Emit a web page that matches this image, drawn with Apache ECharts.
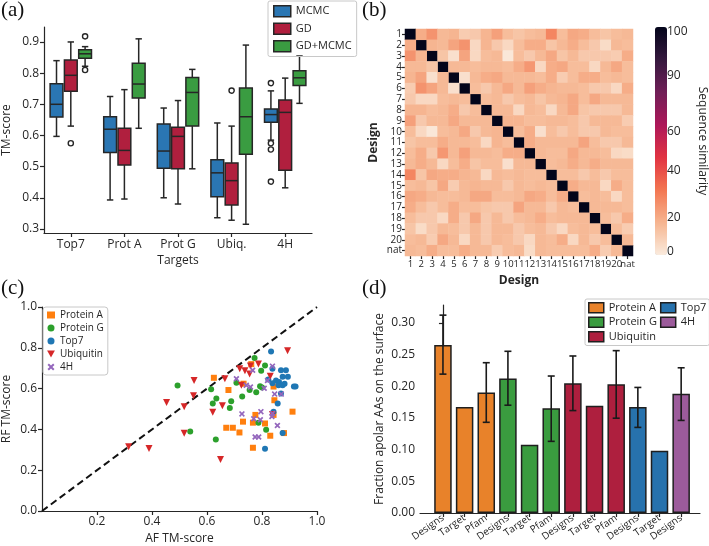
<!DOCTYPE html>
<html><head><meta charset="utf-8">
<script src="https://cdn.jsdelivr.net/npm/echarts@6/dist/echarts.min.js"></script>
<style>html,body{margin:0;padding:0;background:#fff}#c{width:709px;height:546px}</style>
</head><body><div id="c"></div>
<script>
// ---------- Panel (a): box plots ----------
const targets = ['Top7', 'Prot A', 'Prot G', 'Ubiq.', '4H'];
const methods = ['MCMC', 'GD', 'GD+MCMC'];
// [low whisker, q1, median, q3, high whisker] per target
const boxMCMC = [[0.597,0.659,0.700,0.766,0.840],[0.393,0.545,0.620,0.660,0.725],[0.400,0.495,0.550,0.637,0.688],[0.336,0.403,0.480,0.522,0.640],[0.585,0.642,0.667,0.685,0.743]];
const boxGD = [[0.630,0.742,0.793,0.842,0.900],[0.396,0.505,0.552,0.623,0.747],[0.380,0.493,0.597,0.626,0.712],[0.328,0.377,0.455,0.512,0.630],[0.432,0.488,0.674,0.714,0.784]];
const boxGDMCMC = [[0.822,0.848,0.862,0.875,0.885],[0.623,0.720,0.765,0.832,0.910],[0.493,0.630,0.738,0.786,0.812],[0.315,0.540,0.660,0.752,0.890],[0.703,0.760,0.785,0.808,0.855]];
// outliers: [target index, value]
const outMCMC = [[4,0.768],[4,0.575],[4,0.555],[4,0.452]];
const outGD = [[0,0.575],[3,0.744]];
const outGDMCMC = [[0,0.918],[0,0.810]];
const tmTicks = [0.3,0.4,0.5,0.6,0.7,0.8,0.9];

// ---------- Panel (b): heatmap ----------
const designLabels = ['1','2','3','4','5','6','7','8','9','10','11','12','13','14','15','16','17','18','19','20','nat'];
// upper triangle of the symmetric similarity matrix: row i holds columns i+1..nat
const simUpper = [
 [16,22,13,14,8,9,14,19,12,10,12,13,25,12,17,16,12,10,12,13],
 [14,13,18,22,5,14,9,5,12,16,16,10,13,16,12,9,4,13,12],
 [10,3,18,5,12,13,1,12,9,13,17,10,13,9,9,9,8,16],
 [13,13,12,13,13,12,16,21,5,16,17,12,12,5,13,17,12],
 [3,13,16,17,13,13,13,12,16,8,12,16,16,12,13,12],
 [12,9,13,17,13,19,16,14,13,13,12,9,9,5,16],
 [12,13,9,12,13,10,13,14,17,12,17,13,13,13],
 [13,13,5,13,12,5,13,17,10,9,9,9,13],
 [14,14,12,12,13,13,12,9,13,13,13,8],
 [12,16,3,12,9,12,9,9,13,12,12],
 [16,13,13,13,13,18,12,9,9,13],
 [13,12,12,17,13,13,12,5,4],
 [12,13,16,13,16,13,13,13],
 [12,12,9,12,9,12,12],
 [16,13,13,5,16,12],
 [12,13,12,5,12],
 [13,13,13,12],
 [12,9,16],
 [12,8],
 [13]
];
const diagValue = 100;
const cbLabels = ['0','20','40','60','90','100'];
const cbTickAt = [1.4,16.3,37.2,54,78.7,98];

// ---------- Panel (c): scatter ----------
const ptsProteinA = [[0.625,0.653],[0.761,0.72],[0.678,0.593],[0.733,0.624],[0.842,0.61],[0.845,0.543],[0.67,0.408],[0.694,0.408],[0.718,0.385],[0.731,0.438],[0.776,0.471],[0.767,0.433],[0.811,0.429],[0.83,0.369],[0.767,0.31],[0.88,0.382],[0.911,0.487],[0.842,0.471]];
const ptsProteinG = [[0.493,0.615],[0.539,0.39],[0.632,0.351],[0.615,0.597],[0.621,0.527],[0.634,0.552],[0.688,0.538],[0.683,0.505],[0.707,0.629],[0.728,0.561],[0.755,0.593],[0.773,0.75],[0.797,0.688],[0.811,0.713],[0.793,0.612],[0.8,0.605],[0.779,0.582],[0.787,0.432],[0.815,0.398]];
const ptsTop7 = [[0.833,0.782],[0.869,0.69],[0.887,0.69],[0.838,0.697],[0.823,0.645],[0.851,0.64],[0.862,0.632],[0.875,0.658],[0.894,0.658],[0.86,0.617],[0.875,0.616],[0.882,0.624],[0.916,0.61],[0.922,0.61],[0.869,0.576],[0.857,0.527],[0.842,0.487],[0.875,0.382],[0.811,0.305],[0.838,0.626]];
const ptsUbiquitin = [[0.315,0.315],[0.389,0.306],[0.453,0.532],[0.517,0.511],[0.517,0.381],[0.553,0.64],[0.551,0.565],[0.621,0.484],[0.656,0.516],[0.649,0.253],[0.665,0.648],[0.719,0.697],[0.738,0.688],[0.755,0.672],[0.758,0.711],[0.787,0.721],[0.725,0.617],[0.83,0.661],[0.893,0.785],[0.838,0.473]];
const pts4H = [[0.707,0.648],[0.766,0.69],[0.838,0.71],[0.82,0.64],[0.743,0.616],[0.758,0.608],[0.808,0.602],[0.846,0.573],[0.87,0.573],[0.727,0.476],[0.796,0.487],[0.77,0.452],[0.794,0.447],[0.836,0.463],[0.856,0.419],[0.775,0.363],[0.788,0.363],[0.838,0.478]];
const diagLine = [[0,0],[1,1]];

// ---------- Panel (d): bars ----------
const barCats = ['Designs','Target','Pfam','Designs','Target','Pfam','Designs','Target','Pfam','Designs','Target','Designs'];
const barGroup = ['Protein A','Protein A','Protein A','Protein G','Protein G','Protein G','Ubiquitin','Ubiquitin','Ubiquitin','Top7','Top7','4H'];
const barValues = [0.265,0.167,0.190,0.212,0.1075,0.165,0.2045,0.169,0.203,0.167,0.098,0.188];
const errLow = [0.219,null,0.143,0.170,null,0.113,0.1615,null,0.1495,0.135,null,0.146];
const errHigh = [0.312,null,0.237,0.255,null,0.216,0.2476,null,0.256,0.198,null,0.229];
const barTicks = [0,0.05,0.10,0.15,0.20,0.25,0.30];
const groupsD = ['Protein A','Protein G','Ubiquitin','Top7','4H'];

// ---------- styles ----------
const FONT = 'Open Sans';
const INK = '#262626';
const methodColors = {'MCMC':'#2a76b3','GD':'#b01f3e','GD+MCMC':'#3a9c41'};
const scatterColors = {'Protein A':'#ff7f0e','Protein G':'#2ca02c','Top7':'#1f77b4','Ubiquitin':'#d62728','4H':'#9467bd'};
const barColors = {'Protein A':'#e8822a','Protein G':'#3a9c3f','Ubiquitin':'#ae1f3e','Top7':'#2772ad','4H':'#9c5b9b'};
const rocketR = ['#faebdd','#f6b48f','#f37651','#e13342','#ad1759','#701f57','#35193e','#03051a'];

function axisBase(o) {
  const base = {
    axisLine:{show:true, lineStyle:{color:INK, width:1.2}},
    axisTick:{show:true, length:4, lineStyle:{color:INK, width:1.2}},
    axisLabel:{color:INK, fontSize:12, fontFamily:FONT, margin:5},
    splitLine:{show:false},
    nameLocation:'middle',
    nameTextStyle:{color:INK, fontSize:12, fontFamily:FONT}
  };
  for (const k in o) {
    if (base[k] && typeof base[k] === 'object' && !Array.isArray(base[k]) && typeof o[k] === 'object') base[k] = Object.assign({}, base[k], o[k]);
    else base[k] = o[k];
  }
  return base;
}

function boxRenderer(k) {
  return function (params, api) {
    const cat = api.value(0);
    const band = api.size([1, 0])[0];
    const slot = band * 0.8 / 3;
    const cx = api.coord([cat, 0])[0] + (k - 1) * slot;
    const bw = slot - 1.5;
    const y = i => api.coord([cat, api.value(i)])[1];
    const yLow = y(1), yQ1 = y(2), yMed = y(3), yQ3 = y(4), yHigh = y(5);
    const ls = {stroke: INK, lineWidth: 1.5};
    const cap = bw / 4;
    return {type:'group', children:[
      {type:'line', shape:{x1:cx, y1:yLow, x2:cx, y2:yQ1}, style:ls},
      {type:'line', shape:{x1:cx, y1:yQ3, x2:cx, y2:yHigh}, style:ls},
      {type:'line', shape:{x1:cx-cap, y1:yLow, x2:cx+cap, y2:yLow}, style:ls},
      {type:'line', shape:{x1:cx-cap, y1:yHigh, x2:cx+cap, y2:yHigh}, style:ls},
      {type:'rect', shape:{x:cx-bw/2, y:yQ3, width:bw, height:yQ1-yQ3}, style:{fill:api.visual('color'), stroke:INK, lineWidth:1.5}},
      {type:'line', shape:{x1:cx-bw/2, y1:yMed, x2:cx+bw/2, y2:yMed}, style:ls}
    ]};
  };
}
function outlierRenderer(k) {
  return function (params, api) {
    const cat = api.value(0);
    const band = api.size([1, 0])[0];
    const slot = band * 0.8 / 3;
    const p = api.coord([cat, api.value(1)]);
    return {type:'circle', shape:{cx:p[0] + (k-1)*slot, cy:p[1], r:2.6}, style:{fill:'#fff', stroke:INK, lineWidth:1.4}};
  };
}
function errRenderer(params, api) {
  const x = api.value(0);
  const lo = api.coord([x, api.value(1)]);
  const hi = api.coord([x, api.value(2)]);
  const ls = {stroke:'#1a1a1a', lineWidth:1.6};
  return {type:'group', children:[
    {type:'line', shape:{x1:lo[0], y1:lo[1], x2:hi[0], y2:hi[1]}, style:ls},
    {type:'line', shape:{x1:lo[0]-3.5, y1:lo[1], x2:lo[0]+3.5, y2:lo[1]}, style:ls},
    {type:'line', shape:{x1:hi[0]-3.5, y1:hi[1], x2:hi[0]+3.5, y2:hi[1]}, style:ls}
  ]};
}

const boxSets = [boxMCMC, boxGD, boxGDMCMC];
const outSets = [outMCMC, outGD, outGDMCMC];
const heatData = [];
for (let i = 0; i < designLabels.length; i++) heatData.push([i, i, diagValue]);
for (let i = 0; i < simUpper.length; i++) {
  for (let j = 0; j < simUpper[i].length; j++) {
    const c = i + 1 + j;
    heatData.push([c, i, simUpper[i][j]]);
    heatData.push([i, c, simUpper[i][j]]);
  }
}
const barData = barValues.map((v, i) => ({value:[i, v], itemStyle:{color:barColors[barGroup[i]]}}));
const errData = [];
errLow.forEach((lo, i) => { if (lo !== null) errData.push([i, lo, errHigh[i]]); });

const xSym = 'path://M2,0 L5,3 L8,0 L10,2 L7,5 L10,8 L8,10 L5,7 L2,10 L0,8 L3,5 L0,2 Z';
const triDown = 'path://M0,0 L10,0 L5,9 Z';

const series = [];
methods.forEach((m, k) => {
  series.push({name:m, type:'custom', xAxisIndex:0, yAxisIndex:0, renderItem:boxRenderer(k),
    itemStyle:{color:methodColors[m]}, encode:{x:0, y:[1,2,3,4,5]},
    data: boxSets[k].map((b, i) => [i].concat(b)), silent:true});
  series.push({type:'custom', xAxisIndex:0, yAxisIndex:0, renderItem:outlierRenderer(k),
    encode:{x:0, y:1}, data: outSets[k], silent:true, z:3});
});
series.push({name:'heat', type:'heatmap', xAxisIndex:1, yAxisIndex:1, data:heatData, itemStyle:{borderWidth:0}, silent:true});
series.push({type:'line', xAxisIndex:2, yAxisIndex:2, data:diagLine, symbol:'none', silent:true,
  lineStyle:{color:'#111', width:2, type:[7,4]}, z:1});
const scatterSets = [['Protein A', ptsProteinA, 'rect', 6], ['Protein G', ptsProteinG, 'circle', 6],
  ['Top7', ptsTop7, 'circle', 6], ['Ubiquitin', ptsUbiquitin, triDown, 7], ['4H', pts4H, xSym, 6]];
scatterSets.forEach(s => {
  series.push({name:s[0], type:'scatter', xAxisIndex:2, yAxisIndex:2, data:s[1], symbol:s[2], symbolSize:s[3],
    itemStyle:{color:scatterColors[s[0]], opacity:1}, silent:true, z:3});
});
series.push({type:'bar', xAxisIndex:3, yAxisIndex:3, data:barData, barWidth:17.5,
  itemStyle:{borderColor:'#1f1f1f', borderWidth:1.5}, silent:true});
series.push({type:'custom', xAxisIndex:3, yAxisIndex:3, renderItem:errRenderer, encode:{x:0, y:[1,2]}, data:errData, silent:true, z:5});
groupsD.forEach(g => {
  series.push({name:'d:' + g, type:'scatter', xAxisIndex:3, yAxisIndex:3, data:[], symbol:'rect',
    itemStyle:{color:barColors[g], opacity:1}});
});

const titleStyle = {fontFamily:'Liberation Serif', fontSize:21, fontWeight:'normal', color:'#111'};
const option = {
  animation:false,
  backgroundColor:'#fff',
  textStyle:{fontFamily:FONT},
  title:[
    {text:'(a)', left:1, top:0, padding:0, textStyle:titleStyle},
    {text:'(b)', left:362, top:0, padding:0, textStyle:titleStyle},
    {text:'(c)', left:1, top:278, padding:0, textStyle:titleStyle},
    {text:'(d)', left:362, top:278, padding:0, textStyle:titleStyle}
  ],
  grid:[
    {left:41, top:27, width:271, height:206},
    {left:405, top:29, width:228, height:227},
    {left:38, top:307, width:279, height:206},
    {left:420, top:305, width:280, height:208},
    {left:655, top:27, width:12, height:228}
  ],
  xAxis:[
    axisBase({gridIndex:0, type:'category', data:targets, axisTick:{alignWithLabel:true}, axisLabel:{margin:6},
      name:'Targets', nameGap:22}),
    axisBase({gridIndex:1, type:'category', data:designLabels, position:'bottom', axisLine:{show:false},
      axisTick:{alignWithLabel:true, length:3}, axisLabel:{interval:0, fontSize:9.5, margin:3},
      name:'Design', nameGap:19, nameTextStyle:{fontWeight:'bold', fontSize:12}}),
    axisBase({gridIndex:2, type:'value', min:0, max:1, interval:0.2, axisLabel:{showMinLabel:false, formatter:v=>v.toFixed(1)},
      name:'AF TM-score', nameGap:22}),
    axisBase({gridIndex:3, type:'value', min:-1.06, max:11.87, axisTick:{customValues:barCats.map((c,i)=>i)},
      axisLabel:{customValues:barCats.map((c,i)=>i), formatter:v=>barCats[v], rotate:35, fontSize:10, margin:4},
      name:'', nameGap:0}),
    {gridIndex:4, type:'value', show:false, min:0, max:1}
  ],
  yAxis:[
    axisBase({gridIndex:0, type:'value', min:0.287, max:0.948, axisTick:{customValues:tmTicks},
      axisLabel:{customValues:tmTicks, formatter:v=>v.toFixed(1)}, name:'TM-score', nameGap:31}),
    axisBase({gridIndex:1, type:'category', data:designLabels, inverse:true, axisLine:{show:false},
      axisTick:{alignWithLabel:true, length:3}, axisLabel:{interval:0, fontSize:10, margin:3},
      name:'Design', nameGap:25, nameTextStyle:{fontWeight:'bold', fontSize:12}}),
    axisBase({gridIndex:2, type:'value', min:0, max:1, interval:0.2, axisLabel:{formatter:v=>v.toFixed(1)},
      name:'RF TM-score', nameGap:29}),
    axisBase({gridIndex:3, type:'value', min:0, max:0.328, axisTick:{customValues:barTicks},
      axisLabel:{customValues:barTicks, formatter:v=>v.toFixed(2)}, name:'Fraction apolar AAs on the surface', nameGap:34}),
    axisBase({gridIndex:4, type:'value', min:0, max:100, position:'right', axisLine:{show:false},
      axisTick:{customValues:cbTickAt, length:3}, axisLabel:{customValues:cbTickAt, margin:3,
        formatter:v=>cbLabels[cbTickAt.indexOf(v)]},
      name:'Sequence similarity', nameRotate:-90, nameGap:32})
  ],
  visualMap:{type:'continuous', seriesIndex:6, min:0, max:100, left:655, top:27, itemWidth:12, itemHeight:228,
    padding:0, calculable:false, text:null, showLabel:false, inRange:{color:rocketR}},
  legend:[
    {data:methods.map(m=>({name:m, icon:'rect'})), orient:'vertical', left:268, top:1, padding:[4,5,4,5],
      itemWidth:17, itemHeight:11, itemGap:5, borderColor:'#c8c8c8', borderWidth:1, borderRadius:2,
      itemStyle:{borderColor:INK, borderWidth:1.5}, textStyle:{fontSize:11, color:INK, fontFamily:FONT}, selectedMode:false},
    {data:['Protein A','Protein G','Top7','Ubiquitin','4H'], orient:'vertical', left:43, top:307, padding:[3,4,3,4],
      itemWidth:8, itemHeight:7, itemGap:3, borderColor:'#c8c8c8', borderWidth:1, borderRadius:3,
      textStyle:{fontSize:10, color:INK, fontFamily:FONT}, selectedMode:false},
    {data:groupsD.map(g=>({name:'d:'+g, icon:'rect'})), orient:'vertical', left:585, top:299, height:44,
      padding:[3,3,3,3], itemWidth:15, itemHeight:10, itemGap:3, borderColor:'#c8c8c8', borderWidth:1, borderRadius:2,
      formatter:n=>n.slice(2), itemStyle:{borderColor:'#1f1f1f', borderWidth:1.5, opacity:1},
      textStyle:{fontSize:11, color:INK, fontFamily:FONT}, selectedMode:false}
  ],
  series:series
};
const chart = echarts.init(document.getElementById('c'));
chart.setOption(option);
</script></body></html>
